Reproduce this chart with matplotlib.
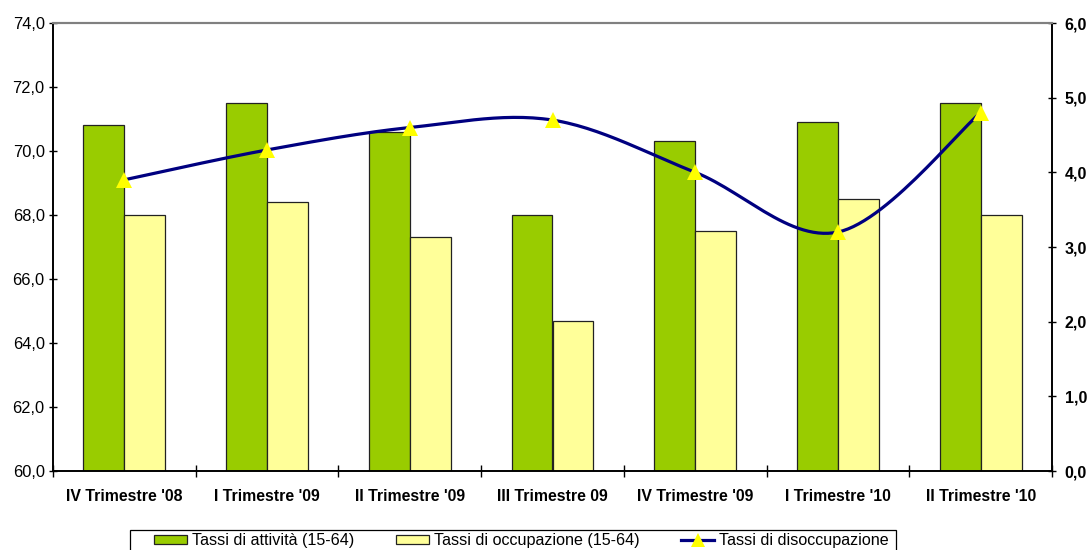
from matplotlib import pyplot as plt
from matplotlib.ticker import FuncFormatter, FixedLocator
from matplotlib.patches import Rectangle
import numpy as np

plt.rcParams['font.family'] = ['Liberation Sans', 'DejaVu Sans']

quarters = ["IV Trimestre '08", "I Trimestre '09", "II Trimestre '09", "III Trimestre 09",
            "IV Trimestre '09", "I Trimestre '10", "II Trimestre '10"]
attivita = [70.8, 71.5, 70.6, 68.0, 70.3, 70.9, 71.5]
occupazione = [68.0, 68.4, 67.3, 64.7, 67.5, 68.5, 68.0]
disoccupazione = [3.9, 4.3, 4.6, 4.7, 4.0, 3.2, 4.8]


def smooth(x, y, steps=30):
    # catmull-rom curve through the points, like Excel's "smoothed line"
    x = np.asarray(x, float)
    y = np.asarray(y, float)
    px = np.concatenate([[x[0]], x, [x[-1]]])
    py = np.concatenate([[y[0]], y, [y[-1]]])
    xs, ys = [], []
    t = np.linspace(0, 1, steps)
    for i in range(1, len(px) - 2):
        p0, p1, p2, p3 = px[i - 1], px[i], px[i + 1], px[i + 2]
        q0, q1, q2, q3 = py[i - 1], py[i], py[i + 1], py[i + 2]
        c1x, c1y = p1 + (p2 - p0) / 6, q1 + (q2 - q0) / 6
        c2x, c2y = p2 - (p3 - p1) / 6, q2 - (q3 - q1) / 6
        bx = (1 - t) ** 3 * p1 + 3 * (1 - t) ** 2 * t * c1x + 3 * (1 - t) * t ** 2 * c2x + t ** 3 * p2
        by = (1 - t) ** 3 * q1 + 3 * (1 - t) ** 2 * t * c1y + 3 * (1 - t) * t ** 2 * c2y + t ** 3 * q2
        xs.extend(bx)
        ys.extend(by)
    return np.array(xs), np.array(ys)


def comma(v, pos):
    return '{:.1f}'.format(v).replace('.', ',')


fig = plt.figure(figsize=(10.88, 5.5), dpi=100)
ax = fig.add_axes([53 / 1088, 1 - 471 / 550, (1052 - 53) / 1088, (471 - 23) / 550])
ax2 = ax.twinx()

index = np.arange(len(quarters))
bar_width = 0.287
b1 = ax.bar(index - bar_width / 2, attivita, bar_width, color='#99CC00', edgecolor='#222222',
            linewidth=0.9, label='Tassi di attività (15-64)', zorder=2)
b2 = ax.bar(index + bar_width / 2, occupazione, bar_width, color='#FFFF99', edgecolor='#222222',
            linewidth=0.9, label='Tassi di occupazione (15-64)', zorder=2)

sx, sy = smooth(index, disoccupazione)
ax2.plot(sx, sy, color='#000080', linewidth=2.3, zorder=3)
ax2.plot(index, disoccupazione, linestyle='none', marker='^', markersize=11,
         color='#FFFF00', markeredgewidth=0, zorder=4)
line_handle, = ax2.plot([], [], color='#000080', linewidth=2.3, marker='^', markersize=10,
                        markerfacecolor='#FFFF00', markeredgewidth=0, label='Tassi di disoccupazione')

ax.set_xlim(-0.5, len(quarters) - 0.5)
ax.set_ylim(60, 74)
ax2.set_ylim(0, 6)
ax.set_yticks(np.arange(60, 74.1, 2))
ax2.set_yticks(np.arange(0, 6.1, 1))
ax.yaxis.set_major_formatter(FuncFormatter(comma))
ax2.yaxis.set_major_formatter(FuncFormatter(comma))

ax.xaxis.set_major_locator(FixedLocator(np.arange(-0.5, len(quarters) - 0.4, 1)))
ax.xaxis.set_minor_locator(FixedLocator(index))
ax.set_xticklabels([], minor=False)
ax.set_xticklabels(quarters, minor=True, fontsize=11.4, fontweight='bold')
ax.tick_params(axis='x', which='major', direction='inout', length=8, width=1)
ax.tick_params(axis='x', which='minor', length=0, pad=13)
ax.tick_params(axis='y', direction='inout', length=6, width=1, labelsize=11.8, pad=3)
ax2.tick_params(axis='y', direction='inout', length=6, width=1, labelsize=11.5, pad=6)
for lab in ax2.get_yticklabels():
    lab.set_fontweight('bold')

for a in (ax, ax2):
    a.spines['top'].set_color('#808080')
    a.spines['top'].set_linewidth(1.5)
    for s in ('left', 'right', 'bottom'):
        a.spines[s].set_linewidth(1.2)
        a.spines[s].set_color('black')

# legend box, cut off by the bottom edge like in the original
fig.patches.append(Rectangle((130 / 1088, 1 - 556 / 550), (896 - 130) / 1088, 26 / 550,
                             transform=fig.transFigure, facecolor='white', edgecolor='black',
                             linewidth=0.9))
fig.legend(handles=[b1, b2, line_handle], loc='center left',
           bbox_to_anchor=(154 / 1088, 1 - 541 / 550), ncol=3, fontsize=11.6,
           frameon=False, handlelength=2.05, handleheight=0.5, handletextpad=0.3,
           columnspacing=2.6, borderpad=0, borderaxespad=0)

plt.savefig('out.png', dpi=100)
